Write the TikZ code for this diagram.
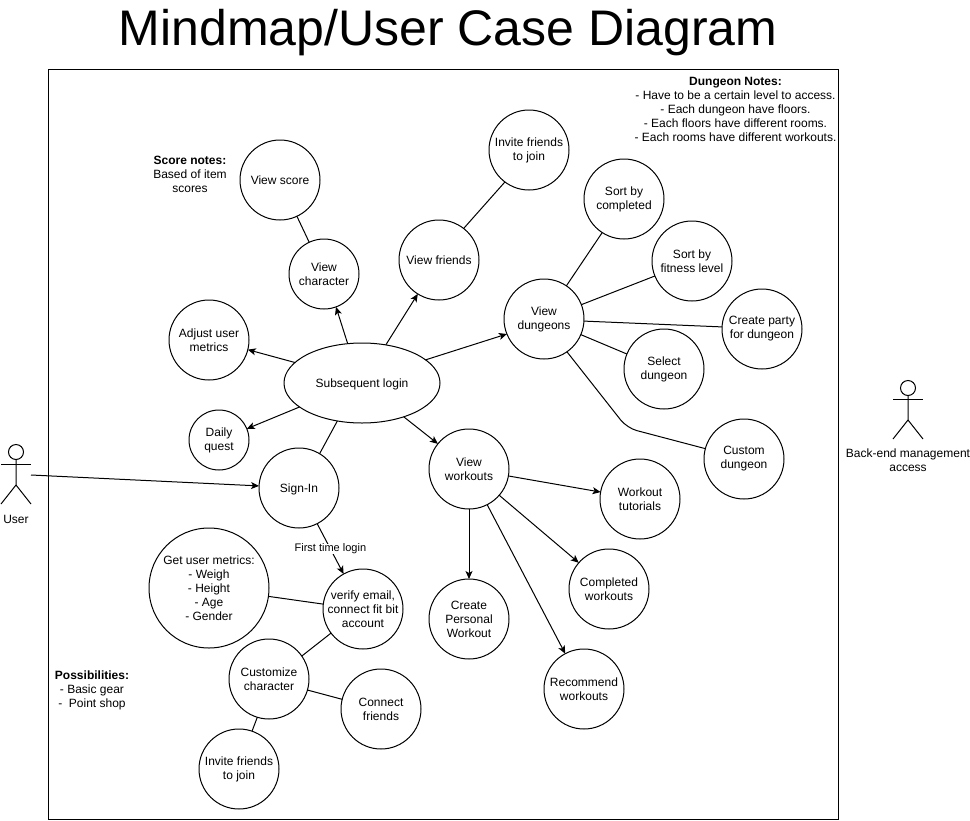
\documentclass[tikz,border=0pt]{standalone}
\usepackage{fontspec}
\setmainfont{Liberation Sans}
\usetikzlibrary{arrows.meta,shapes.geometric}

\begin{document}
\begin{tikzpicture}[
  x=1pt,y=-1pt,
  line width=1pt,
  every node/.style={font=\fontsize{12}{14}\selectfont,align=center,inner sep=0pt,outer sep=0pt},
  note/.style={execute at begin node={\rule{0pt}{12pt}}},
  flatcase/.style={note,draw,circle,minimum size=80pt},
  usecase/.style={execute at begin node={\rule{0pt}{14pt}},draw,circle,minimum size=80pt},
  head/.style={draw,circle,minimum size=15pt},
  arr/.style={-{Stealth[length=8pt,width=7pt,inset=2pt]}},
]
  \useasboundingbox (0,0) rectangle (970,820);
  \node[font=\fontsize{50}{56}\selectfont] (title) at (448,33) {Mindmap/User Case Diagram};
  \draw (48.5,69.5) rectangle (838.5,819.5);

  \node[draw,ellipse,minimum width=156pt,minimum height=80pt,note] (login) at (362,383) {Subsequent login};
  \node[flatcase] (signin) at (299,488) {Sign-In};
  \node[usecase,minimum size=60pt] (daily) at (219,440) {Daily\\quest};
  \node[usecase] (adjust) at (209,340) {Adjust user\\metrics};
  \node[usecase,minimum size=70pt] (character) at (324,274) {View\\character};
  \node[draw,circle,minimum size=80pt] (score) at (280,180) {View score};
  \node[draw,circle,minimum size=80pt] (friends) at (439,260) {View friends};
  \node[usecase] (invitetop) at (529,150) {Invite friends\\to join};

  \node[usecase] (dungeons) at (544,319) {View\\dungeons};
  \node[usecase] (sortdone) at (624,199) {Sort by\\completed};
  \node[usecase] (sortfit) at (692,261) {Sort by\\fitness level};
  \node[usecase] (party) at (762,329) {Create party\\for dungeon};
  \node[usecase] (select) at (664,369) {Select\\dungeon};
  \node[usecase] (custom) at (744,459) {Custom\\dungeon};
  \coordinate (custombend) at (627,428);

  \node[usecase] (workouts) at (469,469) {View\\workouts};
  \node[usecase] (tutorials) at (640,499) {Workout\\tutorials};
  \node[usecase] (completed) at (609,589) {Completed\\workouts};
  \node[usecase] (personal) at (469,619) {Create\\Personal\\Workout};
  \node[usecase] (recommend) at (584,689) {Recommend\\workouts};

  \node[flatcase,minimum size=120pt] (metrics) at (209,588) {Get user metrics:\\- Weigh\\- Height\\- Age\\- Gender};
  \node[usecase] (verify) at (363,609) {verify email,\\connect fit bit\\account};
  \node[usecase] (customize) at (269,679) {Customize\\character};
  \node[usecase] (connect) at (381,709) {Connect\\friends};
  \node[usecase] (invitelow) at (239,769) {Invite friends\\to join};

  \node[note] (scorenote) at (190,174) {\textbf{Score notes:}\\Based of item\\scores};
  \node[note] (gearnote) at (92,690) {\textbf{Possibilities:}\\- Basic gear\\-\ \ Point shop};
  \node[note] (dungeonnote) at (735.5,109) {\textbf{Dungeon Notes:}\\- Have to be a certain level to access.\\- Each dungeon have floors.\\- Each floors have different rooms.\\- Each rooms have different workouts.};

  % actors
  \node[head] (userhead) at (16,452) {};
  \coordinate (userarms) at (16,464);
  \coordinate (userhip) at (16,485);
  \coordinate (userhand) at (31,475);
  \draw (userhead.south) -- (userhip) -- ++(-15,19);
  \draw (userhip) -- ++(15,19);
  \draw (userarms) ++(-15,0) -- ++(30,0);
  \node[note] (user) at (16,518) {User};

  \node[head] (adminhead) at (908,388) {};
  \coordinate (adminarms) at (908,399);
  \coordinate (adminhip) at (908,420);
  \draw (adminhead.south) -- (adminhip) -- ++(-15,19);
  \draw (adminhip) -- ++(15,19);
  \draw (adminarms) ++(-15,0) -- ++(30,0);
  \node[note] (admin) at (908,460) {Back-end management\\access};

  \draw[arr] (userhand) -- (signin.177);
  \draw (login.-123) -- (signin.59);
  \draw[arr] (login.201) -- (daily.22);
  \draw[arr] (login.163) -- (adjust.-14);
  \draw[arr] (login.110) -- (character.-70);
  \draw (character.115) -- (score.-65);
  \draw[arr] (login.58) -- (friends.-122);
  \draw (friends.52) -- (invitetop.-127);
  \draw[arr] (login.20) -- (dungeons.-158);
  \draw[arr] (login.-39) -- (workouts.141);

  \draw (dungeons.56) -- (sortdone.-123);
  \draw (dungeons.21) -- (sortfit.-158);
  \draw (dungeons.-3) -- (party.177);
  \draw (dungeons.-23) -- (select.158);
  \draw[rounded corners=10pt] (dungeons.-55) -- (custombend) -- (custom.165);

  \draw[arr] (workouts.-10) -- (tutorials.170);
  \draw[arr] (workouts.-41) -- (completed.139);
  \draw[arr] (workouts.-63) -- (recommend.118);
  \draw[arr] (workouts.south) -- (personal.north);

  \draw[arr] (signin.-63) -- node[midway,fill=white,font=\fontsize{11}{13}\selectfont]{First time login} (verify.119);
  \draw (metrics.-8) -- (verify.173);
  \draw (verify.-143) -- (customize.35);
  \draw (customize.-16) -- (connect.166);
  \draw (customize.-107) -- (invitelow.71);
\end{tikzpicture}
\end{document}
